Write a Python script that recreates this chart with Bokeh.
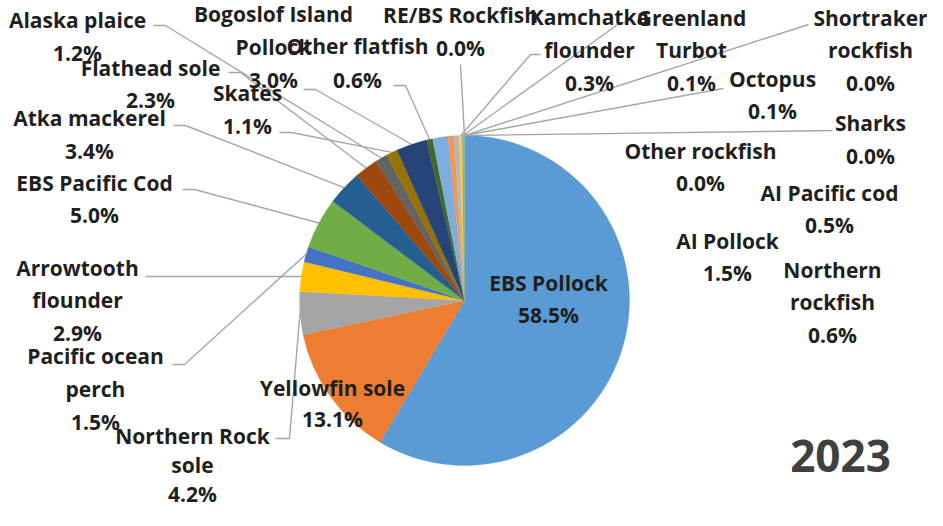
import math
from bokeh.plotting import figure
from bokeh.models import Range1d, ColumnDataSource
from bokeh.core.properties import value
from bokeh.embed import file_html
from bokeh.resources import INLINE

# ---------------- data ----------------
categories = [
    "EBS Pollock", "Yellowfin sole", "Northern Rock sole", "Arrowtooth flounder",
    "Pacific ocean perch", "EBS Pacific Cod", "Atka mackerel", "Flathead sole",
    "Alaska plaice", "Skates", "Bogoslof Island Pollock", "Other flatfish",
    "AI Pollock", "Northern rockfish", "AI Pacific cod", "Kamchatka flounder",
    "Greenland Turbot", "Octopus", "Shortraker rockfish", "Sharks",
    "Other rockfish", "RE/BS Rockfish",
]
shares = [58.5, 13.1, 4.2, 2.9, 1.5, 5.0, 3.4, 2.3, 1.2, 1.1, 3.0, 0.6,
          1.5, 0.6, 0.5, 0.3, 0.1, 0.1, 0.0, 0.0, 0.0, 0.0]
year_label = "2023"

# ---------------- styles / layout ----------------
colors = ["#5B9BD5", "#ED7D31", "#A5A5A5", "#FFC000", "#4472C4", "#70AD47",
          "#255E91", "#9E480E", "#636363", "#997300", "#264478", "#43682B",
          "#7CAFDD", "#F1975A", "#B7B7B7", "#FFCD33", "#698ED0", "#8CC168",
          "#327DC2", "#D26012", "#848484", "#CC9A00"]

W, H = 927, 510
CX, CY, R = 472, 308, 165          # pie centre / radius (page pixels)

# name -> (wrapped name lines, centre x, first-line y, leader anchor, elbow dx, line step)
label_layout = {
    "EBS Pollock":            (["EBS Pollock"], 556, 290, None, 0, 32),
    "Yellowfin sole":         (["Yellowfin sole"], 340, 395, None, 0, 31),
    "Northern Rock sole":     (["Northern Rock", "sole"], 200, 443, (283, 446), 14, 29),
    "Arrowtooth flounder":    (["Arrowtooth", "flounder"], 85, 275, (153, 284), 0, 32.5),
    "Pacific ocean perch":    (["Pacific ocean", "perch"], 103, 363, (180, 372), 12, 33),
    "EBS Pacific Cod":        (["EBS Pacific Cod"], 102, 190, (190, 197), 12, 32),
    "Atka mackerel":          (["Atka mackerel"], 97, 125, (181, 133), 12, 33),
    "Flathead sole":          (["Flathead sole"], 158, 75, (236, 80), 12, 32),
    "Alaska plaice":          (["Alaska plaice"], 85, 27, (161, 33), 12, 33),
    "Skates":                 (["Skates"], 255, 100, (287, 140), 12, 33),
    "Bogoslof Island Pollock": (["Bogoslof Island", "Pollock"], 281, 21, (311, 97), 12, 33),
    "Other flatfish":         (["Other flatfish"], 365, 53, (401, 93), 12, 34),
    "AI Pollock":             (["AI Pollock"], 735, 248, None, 0, 32),
    "Northern rockfish":      (["Northern", "rockfish"], 840, 277, None, 0, 32.5),
    "AI Pacific cod":         (["AI Pacific cod"], 837, 200, None, 0, 32),
    "Kamchatka flounder":     (["Kamchatka", "flounder"], 597, 24, (548, 62), -10, 33),
    "Greenland Turbot":       (["Greenland", "Turbot"], 699, 25, (636, 30), -8, 32.5),
    "Octopus":                (["Octopus"], 780, 86, (731, 96), 0, 32),
    "Shortraker rockfish":    (["Shortraker", "rockfish"], 878, 25, (816, 32), 0, 32.5),
    "Sharks":                 (["Sharks"], 878, 130, (840, 138), 0, 33),
    "Other rockfish":         (["Other rockfish"], 708, 158, None, 0, 32),
    "RE/BS Rockfish":         (["RE/BS Rockfish"], 468, 22, (468, 72), 0, 33),
}

FONT = value("Open Sans")

p = figure(width=W, height=H, output_backend="svg", toolbar_location=None,
           x_range=Range1d(8, 8 + W), y_range=Range1d(-(8 + H), -8),
           min_border=0, background_fill_color="white", border_fill_color="white")
p.axis.visible = False
p.grid.visible = False
p.outline_line_color = None

# ---------------- wedges ----------------
total = sum(shares)
starts, ends, mids = [], [], []
acc = 0.0
for v in shares:
    t0 = acc / total * 2 * math.pi
    acc += v
    t1 = acc / total * 2 * math.pi
    # clockwise from 12 o'clock -> bokeh counter-clockwise angles
    starts.append(math.pi / 2 - t1)
    ends.append(math.pi / 2 - t0)
    mids.append((t0 + t1) / 2)

keep = [i for i, v in enumerate(shares) if v > 0]
src = ColumnDataSource(dict(start=[starts[i] for i in keep],
                            end=[ends[i] for i in keep],
                            color=[colors[i] for i in keep],
                            name=[categories[i] for i in keep]))
p.wedge(x=CX, y=-CY, radius=R, start_angle="start", end_angle="end",
        fill_color="color", line_color="color", line_width=0.3, source=src)

# ---------------- leader lines ----------------
xs, ys = [], []
for name, mid in zip(categories, mids):
    lines, lx, ly, anchor, elbow, step = label_layout[name]
    if anchor is None:
        continue
    ex = CX + R * math.sin(mid)
    ey = CY - R * math.cos(mid)
    ax, ay = anchor
    px = [ax]
    py = [ay]
    if elbow:
        px.append(ax + elbow)
        py.append(ay)
    px.append(ex)
    py.append(ey)
    xs.append(px)
    ys.append([-y for y in py])
p.multi_line(xs, ys, line_color="#A6A6A6", line_width=1.4)

# ---------------- labels ----------------
tx, ty, tt = [], [], []
for name, v in zip(categories, shares):
    lines, lx, ly, anchor, elbow, step = label_layout[name]
    all_lines = lines + [f"{v:.1f}%"]
    for i, s in enumerate(all_lines):
        tx.append(lx)
        ty.append(-(ly + i * step))
        tt.append(s)
p.text(x=tx, y=ty, text=tt, text_font=FONT, text_font_style="bold",
       text_font_size="21px", text_align="center", text_baseline="middle",
       text_color="#1F1F1F")

p.text(x=[848], y=[-463], text=[year_label], text_font=FONT, text_font_style="bold",
       text_font_size="44px", text_align="center", text_baseline="middle",
       text_color="#404040")

open("out.html", "w").write(file_html(p, INLINE))
